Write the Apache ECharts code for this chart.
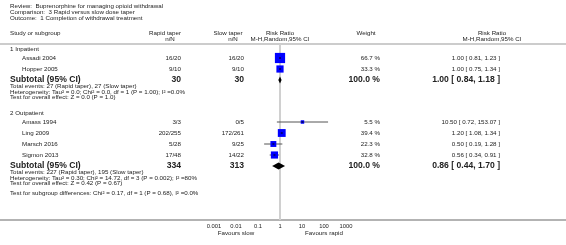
<!DOCTYPE html>
<html>
<head>
<meta charset="utf-8">
<script src="https://cdn.jsdelivr.net/npm/echarts@6/dist/echarts.min.js"></script>
<style>
  html, body { margin: 0; padding: 0; background: #fff; }
  #chart { width: 566px; height: 245px; }
</style>
</head>
<body>
<div id="chart"></div>
<script>
// ---- data ----
const studies = ['Assadi 2004', 'Hopper 2005', 'Amass 1994', 'Ling 2009', 'Marsch 2016', 'Sigmon 2013'];
const studyGroup = [0, 0, 1, 1, 1, 1];
const rapidN = ['16/20', '9/10', '3/3', '202/255', '5/28', '17/48'];
const slowN = ['16/20', '9/10', '0/5', '172/261', '9/25', '14/22'];
const rr = [1.00, 1.00, 10.50, 1.20, 0.50, 0.56];
const rrLow = [0.81, 0.75, 0.72, 1.08, 0.19, 0.34];
const rrHigh = [1.23, 1.34, 153.07, 1.34, 1.28, 0.91];
const weight = [66.7, 33.3, 5.5, 39.4, 22.3, 32.8];

const groups = ['1 Inpatient', '2 Outpatient'];
const subRapid = ['30', '334'];
const subSlow = ['30', '313'];
const subRR = [1.00, 0.86];
const subLow = [0.84, 0.44];
const subHigh = [1.18, 1.70];
const subEvents = ['Total events: 27 (Rapid taper), 27 (Slow taper)',
                   'Total events: 227 (Rapid taper), 195 (Slow taper)'];
const subHet = ['Heterogeneity: Tau\u00b2 = 0.0; Chi\u00b2 = 0.0, df = 1 (P = 1.00); I\u00b2 =0.0%',
                'Heterogeneity: Tau\u00b2 = 0.30; Chi\u00b2 = 14.72, df = 3 (P = 0.002); I\u00b2 =80%'];
const subTest = ['Test for overall effect: Z = 0.0 (P = 1.0)',
                 'Test for overall effect: Z = 0.42 (P = 0.67)'];
const subgroupDiff = 'Test for subgroup differences: Chi\u00b2 = 0.17, df = 1 (P = 0.68), I\u00b2 =0.0%';
const tickValues = [0.001, 0.01, 0.1, 1, 10, 100, 1000];
const tickLabels = ['0.001', '0.01', '0.1', '1', '10', '100', '1000'];

// ---- layout ----
const W = 566, AXIS_Y = 220;
const FONT = '"Liberation Sans", Arial, sans-serif';
const small = '6.2px ' + FONT;
const bold = 'bold 8.6px ' + FONT;
const ink = '#222';
const col = { group: 10, name: 22, rapid: 181, slow: 244, plot: 280, weight: 380, ci: 500 };
const groupTop = [49, 113];

const fmt = v => v.toFixed(2);
const ciText = (e, l, h) => fmt(e) + ' [ ' + fmt(l) + ', ' + fmt(h) + ' ]';

const texts = [];
function txt(s, x, y, align, font) {
  texts.push({ type: 'text', x: x, y: y, silent: true,
    style: { text: s, font: font || small, fill: ink, align: align || 'left', verticalAlign: 'middle' } });
}

txt('Review:  Buprenorphine for managing opioid withdrawal', 10, 6);
txt('Comparison:  3 Rapid versus slow dose taper', 10, 12);
txt('Outcome:  1 Completion of withdrawal treatment', 10, 18);
txt('Study or subgroup', 10, 33);
txt('Rapid taper', 165, 33, 'center');
txt('n/N', 170, 39, 'center');
txt('Slow taper', 228, 33, 'center');
txt('n/N', 233, 39, 'center');
txt('Risk Ratio', col.plot, 33, 'center');
txt('M-H,Random,95% CI', col.plot, 39, 'center');
txt('Weight', 366, 33, 'center');
txt('Risk Ratio', 492, 33, 'center');
txt('M-H,Random,95% CI', 492, 39, 'center');

const studyRows = [];   // [rr, low, high, weight, y]
const diamonds = [];    // [est, low, high, y]
groups.forEach((g, gi) => {
  let y = groupTop[gi];
  txt(g, col.group, y);
  y += 9;
  studies.forEach((s, i) => {
    if (studyGroup[i] !== gi) return;
    txt(s, col.name, y);
    txt(rapidN[i], col.rapid, y, 'right');
    txt(slowN[i], col.slow, y, 'right');
    txt(weight[i].toFixed(1) + ' %', col.weight, y, 'right');
    txt(ciText(rr[i], rrLow[i], rrHigh[i]), col.ci, y, 'right');
    studyRows.push([rr[i], rrLow[i], rrHigh[i], weight[i], y]);
    y += 11;
  });
  txt('Subtotal (95% CI)', col.group, y, 'left', bold);
  txt(subRapid[gi], col.rapid, y, 'right', bold);
  txt(subSlow[gi], col.slow, y, 'right', bold);
  txt('100.0 %', col.weight, y, 'right', bold);
  txt(ciText(subRR[gi], subLow[gi], subHigh[gi]), col.ci, y, 'right', bold);
  diamonds.push([subRR[gi], subLow[gi], subHigh[gi], y]);
  txt(subEvents[gi], col.group, y + 6.5);
  txt(subHet[gi], col.group, y + 12);
  txt(subTest[gi], col.group, y + 17.5);
});
txt(subgroupDiff, col.group, 193);
txt('Favours slow', 236, 233, 'center');
txt('Favours rapid', 324, 233, 'center');

const rules = [
  { type: 'line', silent: true, shape: { x1: 0, y1: 44, x2: W, y2: 44 }, style: { stroke: '#9a9a9a', lineWidth: 1.2 } },
  { type: 'line', silent: true, shape: { x1: 0, y1: AXIS_Y, x2: W, y2: AXIS_Y }, style: { stroke: '#9a9a9a', lineWidth: 1.5 } }
];

const chart = echarts.init(document.getElementById('chart'));
chart.setOption({
  animation: false,
  grid: { left: 214, width: 132, top: 0, height: AXIS_Y },
  xAxis: {
    type: 'log', logBase: 10, min: 0.001, max: 1000, splitNumber: 6,
    axisLine: { show: false },
    axisTick: { show: true, inside: true, length: 2, lineStyle: { color: '#444' } },
    axisLabel: {
      fontSize: 5.8, fontFamily: FONT, color: ink, margin: 3,
      formatter: v => { const k = tickValues.findIndex(t => Math.abs(Math.log10(t) - Math.log10(v)) < 1e-6); return k >= 0 ? tickLabels[k] : ''; }
    },
    splitLine: { show: false }
  },
  yAxis: { type: 'value', min: 0, max: AXIS_Y, inverse: true, show: false },
  graphic: rules.concat(texts),
  series: [
    {
      type: 'custom',
      data: [[1, 44], [1, AXIS_Y]],
      renderItem: (params, api) => {
        if (params.dataIndex > 0) return null;
        const a = api.coord([1, 44]), b = api.coord([1, AXIS_Y]);
        return { type: 'line', shape: { x1: a[0], y1: a[1], x2: b[0], y2: b[1] }, style: { stroke: '#d0d0d0', lineWidth: 2 } };
      },
      encode: { x: 0, y: 1 }, silent: true, z: 1
    },
    {
      type: 'custom',
      data: studyRows,
      encode: { x: [0, 1, 2], y: 4 },
      silent: true, z: 3,
      renderItem: (params, api) => {
        const y = api.value(4);
        const c = api.coord([api.value(0), y]);
        const l = api.coord([api.value(1), y]);
        const h = api.coord([api.value(2), y]);
        const s = Math.max(3.5, 12.5 * Math.sqrt(api.value(3) / 100));
        return { type: 'group', children: [
          { type: 'line', shape: { x1: l[0], y1: l[1], x2: h[0], y2: h[1] }, style: { stroke: '#555', lineWidth: 1 } },
          { type: 'rect', shape: { x: c[0] - s / 2, y: c[1] - s / 2, width: s, height: s }, style: { fill: '#0000ff' } },
          { type: 'line', shape: { x1: c[0] - 1, y1: c[1], x2: c[0] + 1, y2: c[1] }, style: { stroke: '#000', lineWidth: 1 } }
        ] };
      }
    },
    {
      type: 'custom',
      data: diamonds,
      encode: { x: [0, 1, 2], y: 3 },
      silent: true, z: 3,
      renderItem: (params, api) => {
        const y = api.value(3);
        const c = api.coord([api.value(0), y]);
        const l = api.coord([api.value(1), y]);
        const h = api.coord([api.value(2), y]);
        return { type: 'polygon', shape: { points: [[l[0], c[1]], [c[0], c[1] - 3.5], [h[0], c[1]], [c[0], c[1] + 3.5]] },
                 style: { fill: '#000' } };
      }
    }
  ]
});
</script>
</body>
</html>
